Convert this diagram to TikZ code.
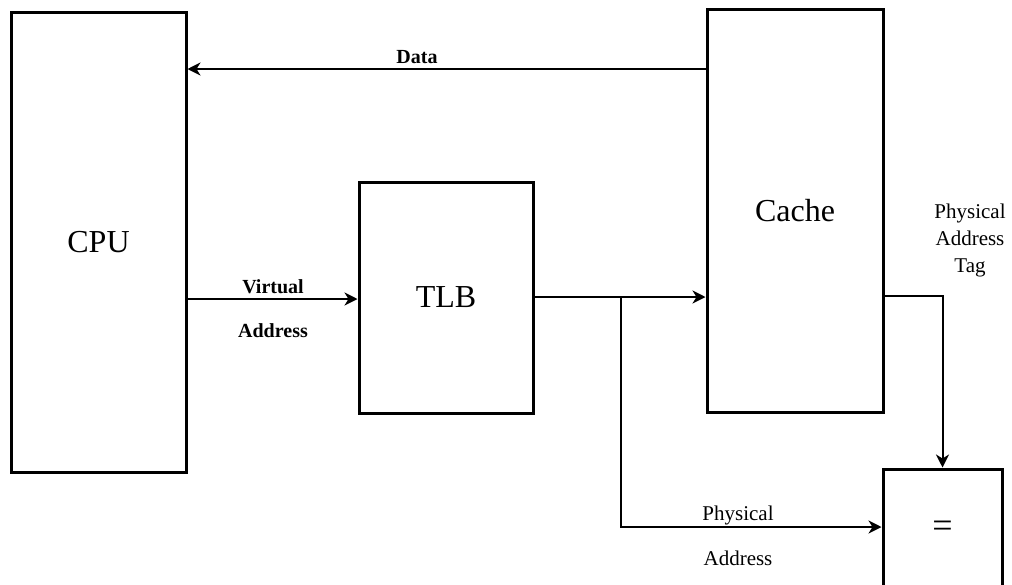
\documentclass[tikz,border=0pt]{standalone}
\usepackage{fontspec}
\setmainfont{Liberation Serif}
\usetikzlibrary{arrows.meta,calc}
\begin{document}
\begin{tikzpicture}[x=1pt,y=-1pt,
  block/.style={draw,line width=3pt,rectangle,inner sep=0pt,
    font=\fontsize{32}{36}\selectfont},
  arr/.style={line width=2pt,
    -{Stealth[length=13pt,width=13pt,inset=4pt]}},
  lbl/.style={inner sep=0pt,font=\fontsize{20}{24}\bfseries\selectfont},
  lblr/.style={inner sep=0pt,align=center,
    font=\fontsize{21}{27}\selectfont}]
\clip (0,0) rectangle (1012,584);
\useasboundingbox (0,0) rectangle (1012,584);

% functional blocks
\node[block,minimum width=175pt,minimum height=460pt] (cpu) at (98.5,242) {CPU};
\node[block,minimum width=174pt,minimum height=231pt] (tlb) at (446,297.5) {TLB};
\node[block,minimum width=176pt,minimum height=403pt] (cache) at (795,210.5) {Cache};
\node[block,minimum width=119pt,minimum height=121pt,
  font=\fontsize{36}{40}\selectfont] (eq) at (942.5,529.5) {=};

% signal levels
\coordinate (dataY) at (0,69);
\coordinate (vaY) at (0,299);
\coordinate (paY) at (0,297);
\coordinate (tagY) at (0,296);
\coordinate (cmpY) at (0,527);
\coordinate (split) at (621,297);

% data returned to the CPU
\draw[arr] (cache.west |- dataY) -- (cpu.east |- dataY);
\node[lbl] (ldata) at (417,57) {Data};

% virtual address into the TLB
\draw[arr] (cpu.east |- vaY) -- (tlb.west |- vaY);
\node[lbl] (lva1) at (273,287) {Virtual};
\node[lbl] (lva2) at (273,331) {Address};

% physical address to cache and comparator
\draw[arr] (tlb.east |- paY) -- (cache.west |- paY);
\draw[arr] (split) |- (eq.west |- cmpY);
\node[lblr] (lpa1) at (738,515) {Physical};
\node[lblr] (lpa2) at (738,558) {Address};

% tag from the cache to the comparator
\draw[arr] (cache.east |- tagY) -| (eq.north);
\node[lblr] (ltag) at (970,240) {Physical\\Address\\Tag};
\end{tikzpicture}
\end{document}
